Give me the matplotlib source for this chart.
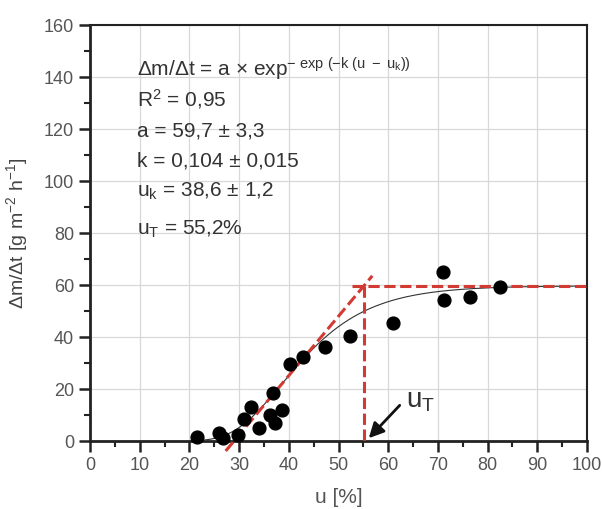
import numpy as np
import matplotlib
matplotlib.use("Agg")
import matplotlib.pyplot as plt

plt.rcParams['font.family'] = ['Liberation Sans', 'DejaVu Sans']
plt.rcParams['mathtext.fontset'] = 'custom'
plt.rcParams['mathtext.rm'] = 'Liberation Sans'
plt.rcParams['mathtext.it'] = 'Liberation Sans'
plt.rcParams['mathtext.bf'] = 'Liberation Sans:bold'

# data
u_vals = [21.5, 26.0, 26.8, 29.7, 31.0, 32.4, 34.0, 36.2, 36.8, 37.2, 38.7,
          40.2, 42.9, 47.3, 52.3, 60.9, 71.1, 71.3, 76.5, 82.4]
rate_vals = [1.7, 3.0, 1.3, 2.3, 8.3, 13.2, 5.1, 10.0, 18.6, 6.8, 11.9,
             29.6, 32.4, 36.0, 40.4, 45.3, 65.1, 54.2, 55.3, 59.1]

# fit parameters
a_fit = 59.7
k_fit = 0.104
uk_fit = 38.6
uT = 55.2

x_ticks = [0, 10, 20, 30, 40, 50, 60, 70, 80, 90, 100]
y_ticks = [0, 20, 40, 60, 80, 100, 120, 140, 160]

RED = '#d23b33'
DASH = (0, (3.7, 1.5))

fig = plt.figure(figsize=(6.02, 5.09), dpi=100)
ax = fig.add_axes([90/602, 1-441/509, (587-90)/602, (441-25)/509])

ax.set_xlim(0, 100)
ax.set_ylim(0, 160)
ax.set_xticks(x_ticks)
ax.set_yticks(y_ticks)
ax.set_xticks(np.arange(5, 100, 10), minor=True)
ax.set_yticks(np.arange(10, 160, 20), minor=True)
ax.grid(True, which='major', color='#d8d8d8', lw=0.9)
ax.set_axisbelow(True)

ax.tick_params(which='major', direction='out', length=8, width=1.8, color='#222222',
               labelsize=13, labelcolor='#555555', top=False, right=False)
ax.tick_params(which='minor', direction='out', length=4.5, width=1.5, color='#222222',
               top=False, right=False)
for side in ['left', 'bottom']:
    ax.spines[side].set_linewidth(2.0)
    ax.spines[side].set_color('#222222')
for side in ['top', 'right']:
    ax.spines[side].set_linewidth(1.5)
    ax.spines[side].set_color('#222222')

# Gompertz fit curve
uu = np.linspace(20, 100, 400)
fit = a_fit * np.exp(-np.exp(-k_fit * (uu - uk_fit)))
ax.plot(uu, fit, color='#333333', lw=0.8, zorder=3)

# tangent at inflection point
slope = a_fit * k_fit / np.e
u0 = uk_fit - 1.0 / k_fit
ut = np.array([27.3, 56.8])
ax.plot(ut, slope * (ut - u0), color=RED, lw=2.2, ls=DASH, zorder=4, clip_on=False)
ax.plot([52.7, 100], [a_fit, a_fit], color=RED, lw=2.2, ls=DASH, zorder=4)
ax.plot([uT, uT], [a_fit, 0], color=RED, lw=2.2, ls=DASH, zorder=4)

ax.scatter(u_vals, rate_vals, s=85, color='black', zorder=5, clip_on=False)

# annotation u_T
ax.annotate('', xy=(uT + 0.5, 0.3), xytext=(62.7, 14.5),
            arrowprops=dict(arrowstyle='-|>,head_length=0.9,head_width=0.45',
                            color='#111111', lw=2.0), zorder=6)
ax.text(63.5, 13, 'u$_\\mathrm{T}$', fontsize=20, color='#333333', zorder=6)

# equation / parameter text
tx = 0.095
fs = 15
ax.text(tx, 0.893, '$\\Delta$m/$\\Delta$t = a × exp$^{-\\ \\mathrm{exp}\\ (-k\\ (u\\ -\\ u_k))}$',
        transform=ax.transAxes, fontsize=fs, color='#333333', va='center')
ax.text(tx, 0.822, 'R$^2$ = 0,95', transform=ax.transAxes, fontsize=fs, color='#333333', va='center')
ax.text(tx, 0.745, 'a = 59,7 ± 3,3', transform=ax.transAxes, fontsize=fs, color='#333333', va='center')
ax.text(tx, 0.672, 'k = 0,104 ± 0,015', transform=ax.transAxes, fontsize=fs, color='#333333', va='center')
ax.text(tx, 0.600, 'u$_\\mathrm{k}$ = 38,6 ± 1,2', transform=ax.transAxes, fontsize=fs, color='#333333', va='center')
ax.text(tx, 0.508, 'u$_\\mathrm{T}$ = 55,2%', transform=ax.transAxes, fontsize=fs, color='#333333', va='center')

ax.set_xlabel('u [%]', fontsize=15, color='#555555', labelpad=10)
ax.set_ylabel('$\\Delta$m/$\\Delta$t [g m$^{-2}$ h$^{-1}$]', fontsize=14, color='#444444', labelpad=10)

fig.savefig('out.png', dpi=100)
